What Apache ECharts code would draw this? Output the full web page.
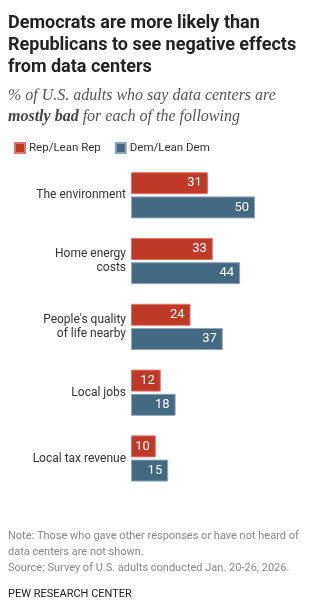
<!DOCTYPE html>
<html>
<head>
<meta charset="utf-8">
<script src="https://cdn.jsdelivr.net/npm/echarts@6/dist/echarts.min.js"></script>
<style>
  html, body { margin: 0; padding: 0; background: #fff; }
  #chart { width: 329px; height: 606px; }
</style>
</head>
<body>
<div id="chart"></div>
<script>
// Share of adults who say data centers are mostly bad, by party
const categories = [
  'The environment',
  'Home energy\ncosts',
  "People's quality\nof life nearby",
  'Local jobs',
  'Local tax revenue'
];
const repValues = [31, 33, 24, 12, 10];
const demValues = [50, 44, 37, 18, 15];
const seriesNames = ['Rep/Lean Rep', 'Dem/Lean Dem'];

const RED = '#bf3927';
const RED_EDGE = '#d9776a';
const BLUE = '#436983';
const BLUE_EDGE = '#8ea6b7';

const chart = echarts.init(document.getElementById('chart'), null, { renderer: 'canvas' });

const sans = 'Roboto, "Liberation Sans", Arial, sans-serif';
const serif = '"Liberation Serif", Georgia, serif';

function barSeries(name, values, fill, edge) {
  return {
    name: name,
    type: 'bar',
    data: values,
    barWidth: 22,
    barGap: '10%',
    barCategoryGap: '30%',
    itemStyle: { color: fill, borderColor: edge, borderWidth: 1 },
    label: {
      show: true,
      position: 'insideRight',
      distance: 6,
      color: '#fff',
      fontFamily: sans,
      fontSize: 13
    },
    emphasis: { disabled: true },
    animation: false
  };
}

chart.setOption({
  animation: false,
  title: [
    {
      text: 'Democrats are more likely than\nRepublicans to see negative effects\nfrom data centers',
      left: 3, top: 7,
      textStyle: { fontFamily: sans, fontWeight: 'bold', fontSize: 18, lineHeight: 22, color: '#222' }
    },
    {
      text: '{i|% of U.S. adults who say data centers are}\n{b|mostly bad}{i| for each of the following}',
      left: 3, top: 80,
      textStyle: {
        rich: {
          i: { fontFamily: serif, fontStyle: 'italic', fontWeight: 'normal', fontSize: 16, lineHeight: 21, color: '#555' },
          b: { fontFamily: serif, fontStyle: 'italic', fontWeight: 'bold', fontSize: 16, lineHeight: 21, color: '#444' }
        }
      }
    },
    {
      text: 'Note: Those who gave other responses or have not heard of\ndata centers are not shown.\nSource: Survey of U.S. adults conducted Jan. 20-26, 2026.',
      left: 3, top: 523,
      textStyle: { fontFamily: sans, fontWeight: 'normal', fontSize: 11, lineHeight: 16, color: '#888' }
    },
    {
      text: 'PEW RESEARCH CENTER',
      left: 3, top: 584,
      textStyle: { fontFamily: sans, fontWeight: 'normal', fontSize: 11, color: '#222' }
    }
  ],
  legend: {
    data: seriesNames,
    left: 9, top: 137,
    itemWidth: 10, itemHeight: 10, itemGap: 14,
    icon: 'rect',
    selectedMode: false,
    textStyle: { fontFamily: sans, fontSize: 11.5, color: '#333', padding: [0, 0, 0, -1] }
  },
  grid: { left: 131, right: 24.4, top: 162.4, height: 329, containLabel: false },
  xAxis: {
    type: 'value', min: 0, max: 70,
    show: false
  },
  yAxis: {
    type: 'category',
    data: categories,
    inverse: true,
    axisLine: { show: false },
    axisTick: { show: false },
    splitLine: { show: false },
    axisLabel: {
      margin: 5,
      fontFamily: sans, fontSize: 12, lineHeight: 14, color: '#333', align: 'right'
    }
  },
  series: [
    barSeries(seriesNames[0], repValues, RED, RED_EDGE),
    barSeries(seriesNames[1], demValues, BLUE, BLUE_EDGE)
  ]
});
</script>
</body>
</html>
